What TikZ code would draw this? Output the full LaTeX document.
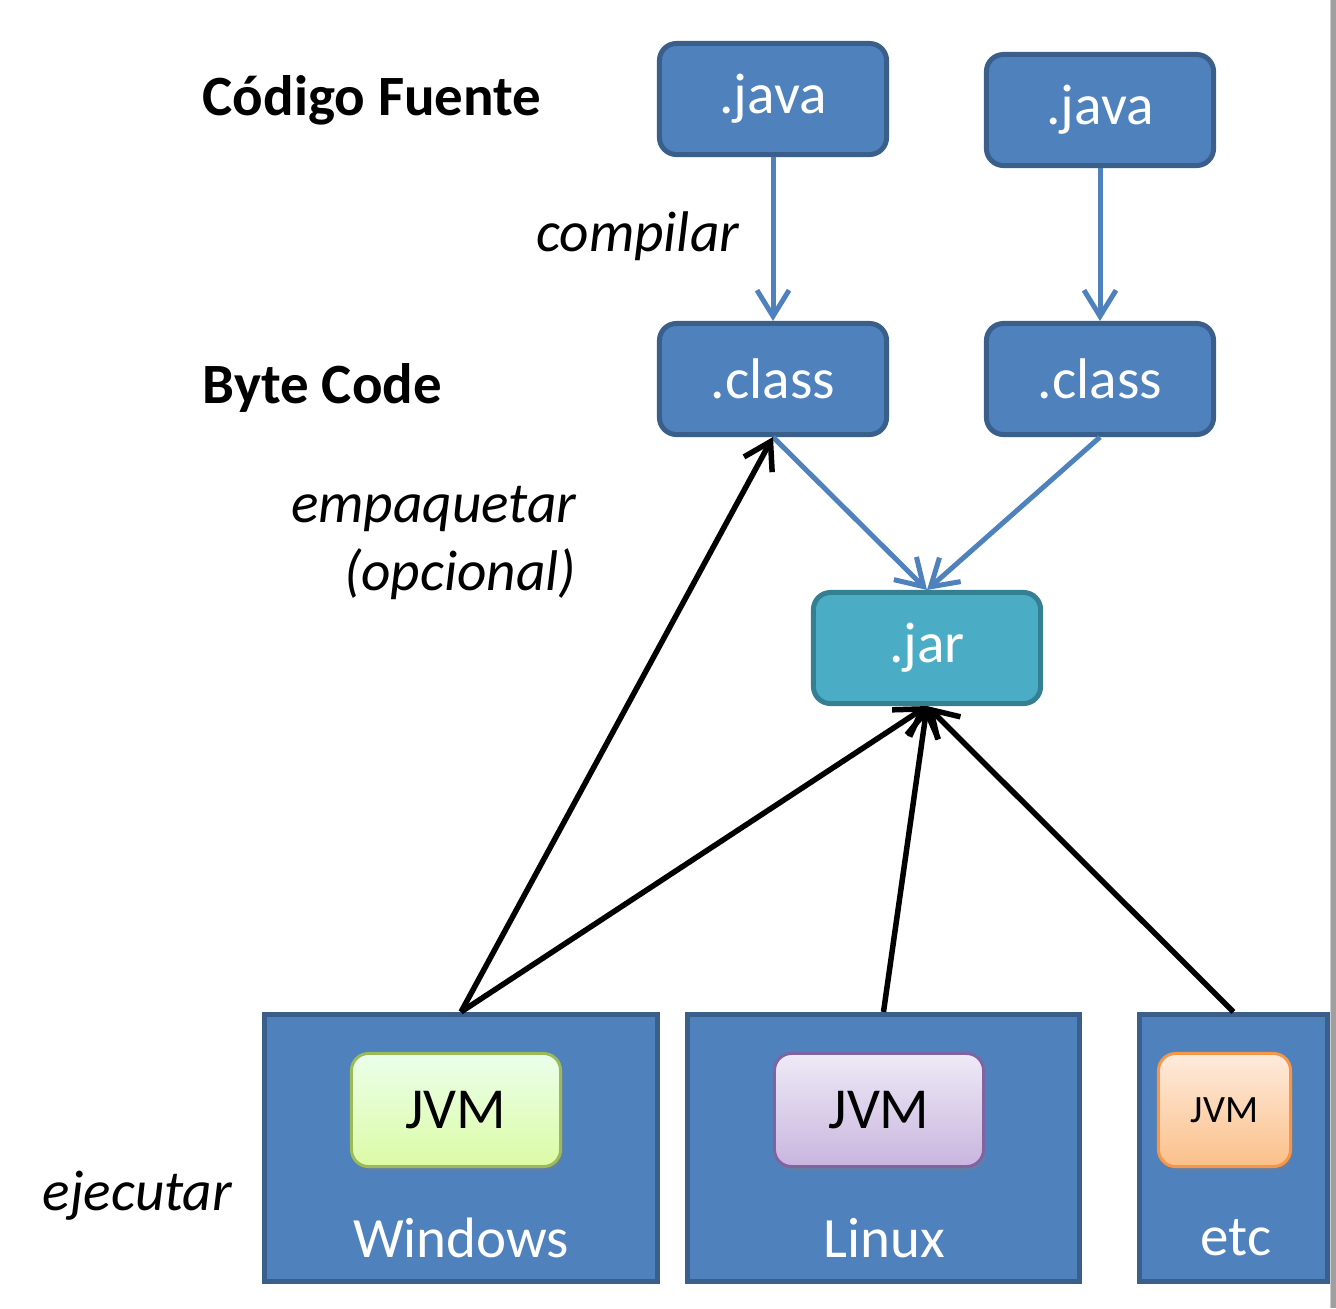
\documentclass[tikz,border=0pt]{standalone}
\usepackage{fontspec}
\setmainfont{Carlito}
\usetikzlibrary{arrows.meta,shadows}
\definecolor{boxblue}{HTML}{4F81BD}
\definecolor{edgeblue}{HTML}{3A5F8B}
\definecolor{jarfill}{HTML}{4BACC6}
\definecolor{jaredge}{HTML}{357F93}
\definecolor{greenedge}{HTML}{9BBB59}
\definecolor{purpleedge}{HTML}{8064A2}
\definecolor{orangeedge}{HTML}{F79646}
\begin{document}
\begin{tikzpicture}[x=0.01cm, y=-0.01cm,
  file/.style={rectangle, rounded corners=0.17cm, draw=edgeblue, fill=boxblue, line width=0.05cm, minimum width=2.27cm, minimum height=1.11cm, text=white, font=\fontsize{16.3}{19}\selectfont},
  platform/.style={rectangle, draw=edgeblue, fill=boxblue, line width=0.05cm, minimum height=2.67cm},
  jvm/.style={rectangle, rounded corners=0.17cm, line width=0.03cm, minimum width=2.09cm, minimum height=1.13cm, font=\fontsize{16.5}{19}\selectfont, drop shadow={opacity=0.35, shadow xshift=0.02cm, shadow yshift=-0.04cm}},
  osname/.style={text=white, font=\fontsize{16.2}{19}\selectfont},
  heading/.style={anchor=west, inner sep=0pt, font=\fontsize{16.2}{19}\selectfont\bfseries},
  step label/.style={inner sep=0pt, font=\fontsize{16.3}{19.6}\selectfont\itshape},
  blueline/.style={draw=boxblue, line width=0.05cm, -{Straight Barb[length=0.26cm, width=0.32cm]}},
  blackline/.style={draw=black, line width=0.055cm, -{Straight Barb[length=0.26cm, width=0.32cm]}}]
\useasboundingbox (0,0) rectangle (1336,1308);
% source files and byte code
\node (java1) at (773,99) [file] {.java};
\node (java2) at (1100,110) [file] {.java};
\node (class1) at (773,379) [file] {.class};
\node (class2) at (1100,379) [file] {.class};
\node (jar) at (927,648) [file, draw=jaredge, fill=jarfill] {.jar};
% platforms
\node (win) at (461,1148) [platform, minimum width=3.93cm] {};
\node (linux) at (883.5,1148) [platform, minimum width=3.92cm] {};
\node (other) at (1233.5,1148) [platform, minimum width=1.88cm] {};
\node (winjvm) at (456,1110) [jvm, draw=greenedge, top color=green!8!white, bottom color={rgb,255:red,220;green,251;blue,165}] {JVM};
\node (linuxjvm) at (879,1110) [jvm, draw=purpleedge, top color={rgb,255:red,238;green,234;blue,246}, bottom color={rgb,255:red,201;green,181;blue,223}] {JVM};
\node (otherjvm) at (1224.5,1110) [jvm, minimum width=1.32cm, draw=orangeedge, top color={rgb,255:red,254;green,235;blue,221}, bottom color={rgb,255:red,251;green,192;blue,138}, font=\fontsize{11}{13}\selectfont] {JVM};
\node (winname) at (461,1238) [osname] {Windows};
\node (linuxname) at (884,1238) [osname] {Linux};
\node (othername) at (1236,1238) [osname] {etc};
% window edge
\fill[gray!75] (1330,0) rectangle (1336,1308);
\draw[gray!40, line width=0.01cm] (1330,0) -- (1330,1308);
% labels
\node (fuente) at (202,100) [heading] {Código Fuente};
\node (bytecode) at (202,388) [heading] {Byte Code};
\node (compilar) at (740,236) [step label, anchor=east] {compilar};
\node (empaquetar) at (577,543) [step label, anchor=east, align=right] {empaquetar\\(opcional)};
\node (ejecutar) at (42,1196) [step label, anchor=west] {ejecutar};
% arrows
\draw [blueline] (java1) -- (class1);
\draw [blueline] (java2) -- (class2);
\draw [blueline] (class1.south) -- (jar.north);
\draw [blueline] (class2.south) -- (jar.north);
\draw [blackline] (win.north) -- (class1.south);
\draw [blackline] (win.north) -- (jar.south);
\draw [blackline] (linux.north) -- (jar.south);
\draw [blackline] (other.north) -- (jar.south);
\end{tikzpicture}
\end{document}
